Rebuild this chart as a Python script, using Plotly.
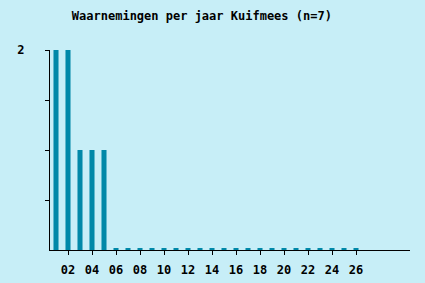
import plotly.graph_objects as go

years = list(range(1, 27))
counts = [2, 2, 1, 1, 1] + [0] * 21
tick_years = list(range(2, 27, 2))
tick_labels = [f"<b>{y:02d}</b>" for y in tick_years]
title = "Waarnemingen per jaar Kuifmees (n=7)"

BG = "#c7eef7"
BAR = "#0088a8"
STUB = 0.02

fig = go.Figure()
fig.add_trace(go.Bar(x=years, y=counts, width=0.42, marker=dict(color=BAR, line=dict(width=0)), hoverinfo="skip"))
fig.add_trace(go.Bar(x=years, y=[STUB if c == 0 else 0 for c in counts], width=0.42,
                     marker=dict(color=BAR, line=dict(width=0)), hoverinfo="skip"))

font = "DejaVu Sans Mono, Liberation Mono, monospace"
fig.update_layout(
    width=425, height=283,
    margin=dict(l=50, r=15, t=50, b=33, autoexpand=False),
    paper_bgcolor=BG, plot_bgcolor=BG,
    showlegend=False, barmode="overlay",
    title=dict(text="<b>" + title + "</b>", x=0.475, xanchor="center", y=0.945, yanchor="middle",
               font=dict(family=font, size=12, color="black")),
    xaxis=dict(range=[0.5, 30.5], tickvals=tick_years, ticktext=tick_labels,
               showline=True, linecolor="black", linewidth=1, ticks="outside", ticklen=4,
               tickcolor="black", showgrid=False, zeroline=False, automargin=False,
               ticklabelstandoff=5,
               tickfont=dict(family=font, size=12, color="black")),
    yaxis=dict(range=[0, 2], tickvals=[0.5, 1, 1.5, 2], ticktext=["", "", "", "<b>2</b>"],
               showline=True, linecolor="black", linewidth=1, ticks="outside", ticklen=4,
               tickcolor="black", showgrid=False, zeroline=False, automargin=False,
               ticklabelstandoff=18,
               tickfont=dict(family=font, size=12, color="black")),
)
fig.write_html("out.html")
